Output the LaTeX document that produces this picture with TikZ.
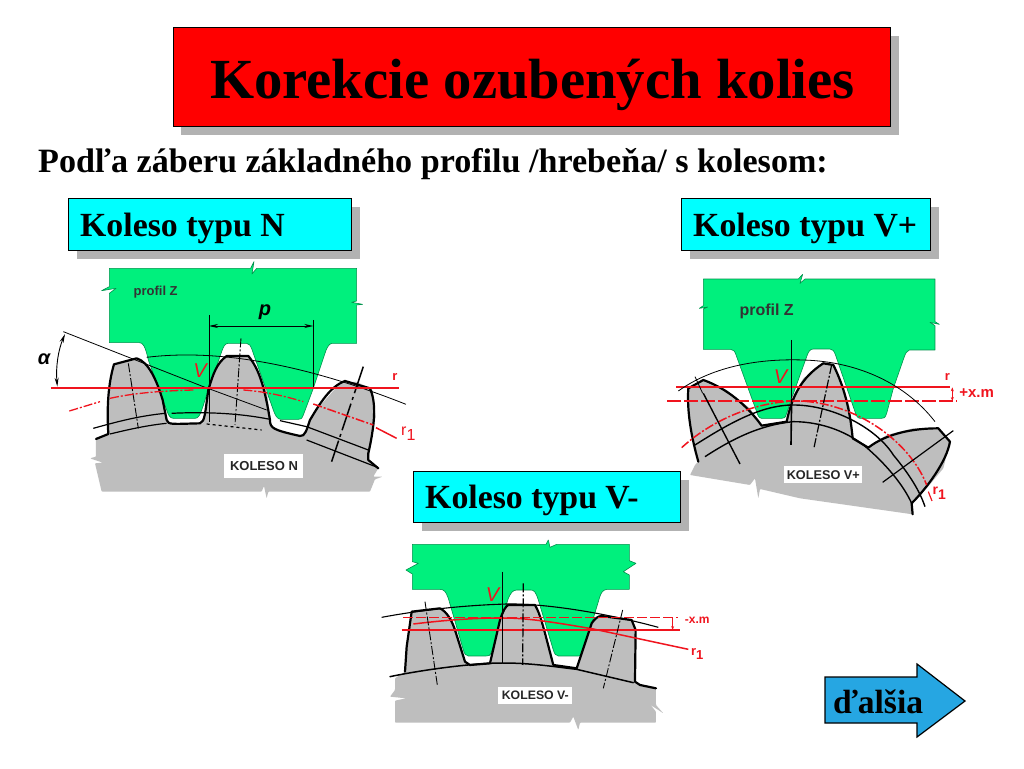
\documentclass[tikz,border=0pt]{standalone}
\usepackage{fontspec}
\setmainfont{Liberation Serif}
\setsansfont{Liberation Sans}
\usetikzlibrary{arrows.meta}
\definecolor{gearGray}{RGB}{190,190,190}
\definecolor{profGreen}{RGB}{0,240,125}
\definecolor{shadowGray}{RGB}{178,178,178}
\definecolor{lineRed}{RGB}{240,20,30}
\definecolor{nextBlue}{RGB}{38,166,226}
\definecolor{boxCyan}{RGB}{0,255,255}
\newcommand{\rone}{r\raisebox{-.3em}{1}}
\tikzset{
  titlebox/.style={draw=black,line width=1pt,fill=red,anchor=center,inner sep=0pt},
  labelbox/.style={draw=black,line width=1pt,fill=boxCyan},
  shadowfill/.style={fill=shadowGray,draw=none},
  headtext/.style={font=\fontsize{33.8}{35}\selectfont\bfseries,text=black,anchor=base west,inner sep=0pt},
  profile/.style={fill=profGreen,draw=profGreen!60!black,line width=.6pt,line join=round},
  gearbody/.style={fill=gearGray,draw=none,rounded corners=.8pt},
  outline/.style={draw=black,line width=2.2pt,line join=round,line cap=round},
  thinblk/.style={draw=black,line width=.8pt},
  midblk/.style={draw=black,line width=1.2pt},
  centerline/.style={draw=black,line width=.9pt,dash pattern=on 9pt off 2pt on 2pt off 2pt},
  redline/.style={draw=lineRed,line width=2pt},
  reddash/.style={draw=lineRed,line width=1.3pt,dash pattern=on 9pt off 2pt on 2pt off 2pt},
  redlong/.style={draw=lineRed,line width=1.3pt,dash pattern=on 14pt off 3pt},
  tag/.style={fill=white,inner sep=0pt,text=black!85},
  ptext/.style={inner sep=0pt,font=\sffamily\bfseries\fontsize{13}{14}\selectfont,text=black!80},
  redtext/.style={inner sep=0pt,font=\sffamily\bfseries\fontsize{13}{14}\selectfont,text=lineRed},
  vtext/.style={inner sep=0pt,font=\sffamily\itshape\fontsize{20}{21}\selectfont,text=lineRed},
  dim/.style={draw=black,line width=.9pt,{Stealth[length=9pt,width=4pt]}-{Stealth[length=9pt,width=4pt]}},
}
\begin{document}
\begin{tikzpicture}[x=1pt,y=-1pt]
\useasboundingbox[fill=white] (0,0) rectangle (1024,768);

% title
\fill[shadowfill] (181,36) rectangle (899,135);
\node[titlebox,minimum width=717pt,minimum height=98pt] (title) at (531.5,77) {};
\node[inner sep=0pt,font=\fontsize{56.7}{60}\selectfont\bfseries] (titletext) at (532.5,85) {Korekcie ozubených kolies};
\node[inner sep=0pt,anchor=base west,font=\fontsize{34.1}{36}\selectfont\bfseries] (sub) at (38,172) {Podľa záberu základného profilu /hrebeňa/ s kolesom:};

% label boxes
\fill[shadowfill] (77,207) rectangle (360,259);
\draw[labelbox] (68,198) rectangle (351,250);
\node[headtext] (kn) at (80,236) {Koleso typu N};
\fill[shadowfill] (690,207) rectangle (939,259);
\draw[labelbox] (681,198) rectangle (930,250);
\node[headtext] (kv) at (693,236) {Koleso typu V+};
\fill[shadowfill] (422,480) rectangle (689,531);
\draw[labelbox] (413,471) rectangle (680,522);
\node[headtext] (km) at (425,508) {Koleso typu V-};

% ---------- panel N
\begin{scope}[xshift=40pt,yshift=-250pt,x=.3333pt,y=-.3333pt]
\draw[profile] (208,55) -- (632,55) -- (642,35) -- (636,72) -- (650,55) -- (950,55) -- (950,153) -- (935,157) -- (968,163) -- (950,165) -- (950,280) -- (875,280) .. controls (865,283) and (860,295) .. (855,310) -- (820,415) -- (790,495) .. controls (785,508) and (782,508) .. (775,508) -- (722,508) .. controls (712,508) and (705,495) .. (700,480) -- (640,310) .. controls (632,285) and (628,280) .. (620,280) -- (565,280) .. controls (555,280) and (550,290) .. (545,305) -- (495,450) .. controls (480,500) and (475,505) .. (465,505) -- (400,505) .. controls (390,505) and (385,495) .. (380,480) -- (325,330) .. controls (315,285) and (308,278) .. (298,278) -- (208,278) -- (208,130) -- (228,115) -- (185,122) -- (208,110) -- cycle;
\fill[gearbody] (168,567) -- (205,552) -- (203,450) -- (220,345) -- (290,325) -- (325,345) -- (365,430) -- (385,520) -- (490,520) -- (505,420) -- (540,330) -- (560,318) -- (625,318) -- (680,420) -- (695,535) -- (780,558) -- (800,545) -- (820,490) -- (900,400) -- (950,395) -- (998,420) -- (1007,500) -- (985,630) -- (1015,655) -- (1000,680) -- (1028,680) -- (1005,688) -- (990,725) -- (685,725) -- (680,745) -- (672,708) -- (665,725) -- (185,725) -- (165,640) -- (188,638) -- (150,625) -- (168,620) -- cycle;
\draw[outline] (168,567) -- (205,552) .. controls (200,470) and (205,400) .. (222,343) -- (290,325) .. controls (325,335) and (350,390) .. (368,450) -- (380,510) .. controls (385,525) and (395,522) .. (480,520) .. controls (495,515) and (495,490) .. (505,420) .. controls (520,370) and (530,340) .. (560,318) -- (625,318) .. controls (660,360) and (675,420) .. (690,510) .. controls (690,535) and (700,540) .. (780,558) .. controls (795,560) and (800,540) .. (810,510) .. controls (840,460) and (870,410) .. (915,393) -- (990,415) .. controls (1005,450) and (1010,500) .. (985,610) -- (985,630) -- (1015,655);
\draw[midblk] (160,535) .. controls (250,510) and (300,498) .. (375,490);
\draw[midblk] (395,490) .. controls (500,485) and (600,490) .. (690,508);
\draw[midblk] (720,512) -- (800,530) -- (985,600);
\draw[midblk] (210,552) .. controls (280,535) and (330,525) .. (380,520);
\draw[midblk,dashed] (500,522) -- (665,540);
\draw[midblk] (800,570) -- (1012,652);
\draw[centerline] (265,340) -- (295,535);
\draw[centerline] (603,265) -- (585,525);
\draw[midblk,line width=1.5pt,dash pattern=on 28pt off 4pt on 3pt off 4pt] (970,350) -- (875,635);
\draw[thinblk] (320,322) .. controls (500,300) and (750,325) .. (1098,463);
\draw[thinblk] (70,245) -- (490,410) -- (680,480);
\draw[thinblk] (507,195) -- (507,515);
\draw[thinblk] (820,210) -- (820,415);
\coordinate (pa) at (507,228); \coordinate (pb) at (820,228);
\draw[dim] (pa) -- (pb);
\coordinate (aa) at (75,252); \coordinate (ab) at (52,410);
\draw[dim] (aa) .. controls (55,300) and (47,350) .. (ab);
\draw[redline] (33,414) -- (1078,414);
\draw[reddash] (88,483) -- (180,455);
\draw[reddash] (210,445) .. controls (300,425) and (400,422) .. (460,420);
\draw[reddash] (610,420) .. controls (680,425) and (740,440) .. (790,455);
\draw[reddash,line width=1.5pt] (820,462) -- (1000,525);
\draw[redline,line width=1.5pt] (1008,533) -- (1070,565);
\node[tag,minimum width=79pt,minimum height=23.5pt,font=\sffamily\bfseries\fontsize{13}{14}\selectfont] (kolN) at (672,648) {KOLESO N};
\node[ptext] (pzN) at (347,127) {profil Z};
\node[inner sep=0pt,font=\sffamily\bfseries\itshape\fontsize{20}{21}\selectfont] (pN) at (675,188) {p};
\node[inner sep=0pt,font=\sffamily\bfseries\itshape\fontsize{20}{21}\selectfont] (aN) at (12,327) {α};
\node[vtext] (vN) at (480,362) {V};
\node[redtext] (rN) at (1065,380) {r};
\node[redtext,font=\sffamily\fontsize{16}{17}\selectfont] (r1N) at (1105,550) {\rone};
\end{scope}

% ---------- panel V+
\begin{scope}[xshift=660pt,yshift=-265pt,x=.3333pt,y=-.3333pt]
\draw[profile] (130,42) -- (415,42) -- (428,28) -- (420,55) -- (435,42) -- (825,42) -- (825,170) -- (838,178) -- (810,172) -- (825,182) -- (825,255) -- (748,255) .. controls (740,258) and (737,265) .. (733,275) -- (700,370) -- (680,445) .. controls (675,460) and (672,460) .. (665,460) -- (600,460) .. controls (592,460) and (588,450) .. (585,440) -- (530,280) .. controls (522,255) and (518,252) .. (510,252) -- (460,252) .. controls (450,252) and (445,260) .. (440,275) -- (395,400) -- (380,445) .. controls (376,460) and (372,460) .. (365,460) -- (305,460) .. controls (297,460) and (293,450) .. (290,440) -- (230,275) .. controls (225,258) and (220,253) .. (212,253) -- (130,253) -- (130,132) -- (143,126) -- (118,130) -- (130,122) -- cycle;
\fill[gearbody] (90,630) -- (105,600) -- (115,590) -- (85,440) -- (85,370) -- (130,345) -- (200,375) -- (270,430) -- (305,482) -- (380,470) -- (395,400) -- (430,340) -- (490,295) -- (520,300) -- (545,350) -- (570,430) -- (578,520) -- (625,548) -- (680,510) -- (760,490) -- (835,490) -- (870,530) -- (850,610) -- (800,670) -- (755,715) -- (758,748) -- (420,700) -- (300,672) -- (295,700) -- (285,640) -- (270,660) -- cycle;
\draw[outline] (115,590) .. controls (95,520) and (80,440) .. (85,370) -- (130,345) .. controls (200,370) and (260,420) .. (305,482) -- (380,470) .. controls (395,400) and (420,340) .. (490,295) -- (520,300) .. controls (550,360) and (570,430) .. (578,520) -- (625,548) .. controls (680,505) and (760,490) .. (835,490) -- (870,530) .. controls (860,590) and (800,670) .. (755,715) -- (758,748);
\draw[midblk,line width=1.4pt] (105,540) .. controls (200,480) and (300,420) .. (400,420) .. controls (520,420) and (650,490) .. (700,570) .. controls (750,630) and (780,680) .. (795,725);
\draw[midblk,line width=1.4pt] (135,575) .. controls (220,520) and (300,480) .. (400,470) .. controls (490,470) and (570,505) .. (620,548) .. controls (680,600) and (730,660) .. (755,715);
\draw[redline] (48,367) -- (870,367);
\draw[redlong] (22,408) -- (890,408);
\draw[reddash,line width=1.5pt] (65,548) .. controls (150,470) and (280,408) .. (420,408) .. controls (590,415) and (750,530) .. (800,660);
\draw[midblk,line width=1.4pt] (130,385) -- (240,597);
\draw[centerline,line width=1.2pt] (515,300) -- (462,548);
\draw[midblk] (880,497) -- (668,652);
\draw[thinblk] (105,335) -- (128,385);
\draw[thinblk] (55,378) .. controls (150,310) and (280,280) .. (430,285) .. controls (600,290) and (740,360) .. (825,470);
\draw[thinblk] (395,225) -- (395,400);
\draw[midblk,line width=1.6pt] (395,400) -- (393,540);
\coordinate (xa) at (877,367); \coordinate (xb) at (877,408);
\draw[draw=lineRed,line width=.8pt,{Stealth[length=4pt,width=3pt]}-{Stealth[length=4pt,width=3pt]}] (xa) -- (xb);
\draw[redline,line width=1.2pt] (805,680) -- (816,708);
\node[tag,minimum width=78pt,minimum height=17.5pt,font=\sffamily\bfseries\fontsize{12.7}{14}\selectfont] (kolV) at (490,629) {KOLESO V+};
\node[ptext,font=\sffamily\bfseries\fontsize{16}{17}\selectfont] (pzV) at (320,140) {profil Z};
\node[vtext] (vV) at (362,334) {V};
\node[redtext] (rV) at (862,337) {r};
\node[redtext,font=\sffamily\bfseries\fontsize{15}{16}\selectfont] (xmV) at (950,385) {+x.m};
\node[redtext,font=\sffamily\bfseries\fontsize{14}{15}\selectfont] (r1V) at (838,685) {\rone};
\end{scope}

% ---------- panel V-
\begin{scope}[xshift=380pt,yshift=-530pt,x=.3333pt,y=-.3333pt]
\draw[profile] (97,43) -- (498,43) -- (505,30) -- (510,52) -- (530,43) -- (748,43) -- (748,92) -- (768,100) -- (730,125) -- (748,135) -- (748,178) -- (680,178) .. controls (668,180) and (662,190) .. (658,205) -- (610,365) .. controls (606,378) and (603,378) .. (595,378) -- (535,378) .. controls (527,378) and (523,370) .. (520,360) -- (475,210) .. controls (467,185) and (462,180) .. (452,180) -- (410,180) .. controls (398,180) and (392,190) .. (385,205) -- (335,365) .. controls (330,378) and (326,378) .. (318,378) -- (265,378) .. controls (257,378) and (253,370) .. (250,360) -- (205,205) .. controls (198,185) and (192,178) .. (180,178) -- (97,178) -- (97,132) -- (78,120) -- (115,100) -- (97,95) -- cycle;
\fill[gearbody] (45,445) -- (75,425) -- (80,350) -- (95,245) -- (180,235) -- (215,265) -- (255,395) -- (270,405) -- (330,400) -- (360,270) -- (385,225) -- (465,225) -- (520,405) -- (590,415) -- (640,270) -- (665,258) -- (755,270) -- (765,300) -- (765,455) -- (780,465) -- (828,475) -- (828,525) -- (850,550) -- (812,525) -- (828,545) -- (828,578) -- (600,578) -- (595,600) -- (580,560) -- (570,578) -- (45,578) -- (45,512) -- (78,505) -- (30,500) -- (45,480) -- cycle;
\draw[outline] (75,425) -- (80,350) -- (95,245) -- (180,235) .. controls (200,245) and (215,270) .. (225,300) -- (255,395) -- (270,405) -- (330,400) -- (360,270) .. controls (370,240) and (378,228) .. (385,225) -- (465,225) .. controls (480,250) and (490,290) .. (520,405) -- (590,415) -- (635,280) .. controls (645,265) and (655,258) .. (665,258) -- (755,270) -- (767,300) -- (765,455) -- (780,465) -- (828,475);
\draw[outline,line width=1.5pt] (30,440) .. controls (100,425) and (230,405) .. (330,400) .. controls (430,395) and (520,410) .. (590,418) -- (760,458);
\draw[thinblk,line width=1.1pt] (5,262) .. controls (150,235) and (280,225) .. (380,222) .. controls (500,220) and (680,250) .. (835,292);
\draw[draw=lineRed,line width=1.2pt,dash pattern=on 10pt off 3pt] (70,262) -- (895,262);
\draw[redline] (65,300) -- (900,300);
\draw[redline,line width=1.5pt] (100,282) .. controls (200,270) and (280,264) .. (370,264) .. controls (450,264) and (540,280) .. (640,297) -- (925,358);
\draw[centerline] (135,215) -- (172,465);
\draw[centerline,line width=1.2pt] (430,160) -- (428,405);
\draw[centerline] (728,240) -- (670,475);
\draw[midblk] (368,125) -- (368,400);
\coordinate (ma) at (878,262); \coordinate (mb) at (878,300);
\draw[draw=lineRed,line width=.8pt,-{Stealth[length=4pt,width=3pt]}] (ma) -- (mb);
\node[tag,minimum width=74pt,minimum height=17.5pt,font=\sffamily\bfseries\fontsize{12.3}{14}\selectfont] (kolM) at (466,497) {KOLESO V-};
\node[vtext] (vM) at (338,195) {V};
\node[redtext,font=\sffamily\bfseries\fontsize{12}{13}\selectfont] (xmM) at (952,272) {-x.m};
\node[redtext,font=\sffamily\bfseries\fontsize{13}{14}\selectfont] (r1M) at (952,372) {\rone};
\end{scope}

% next arrow
\draw[fill=nextBlue,draw=black,line width=1.2pt,line join=miter] (825,677) -- (917,677) -- (917,664) -- (965,701) -- (917,737) -- (917,723) -- (825,723) -- cycle;
\node[inner sep=0pt,anchor=base west,font=\fontsize{33.6}{35}\selectfont\bfseries] (next) at (833,713) {ďalšia};
\end{tikzpicture}
\end{document}
